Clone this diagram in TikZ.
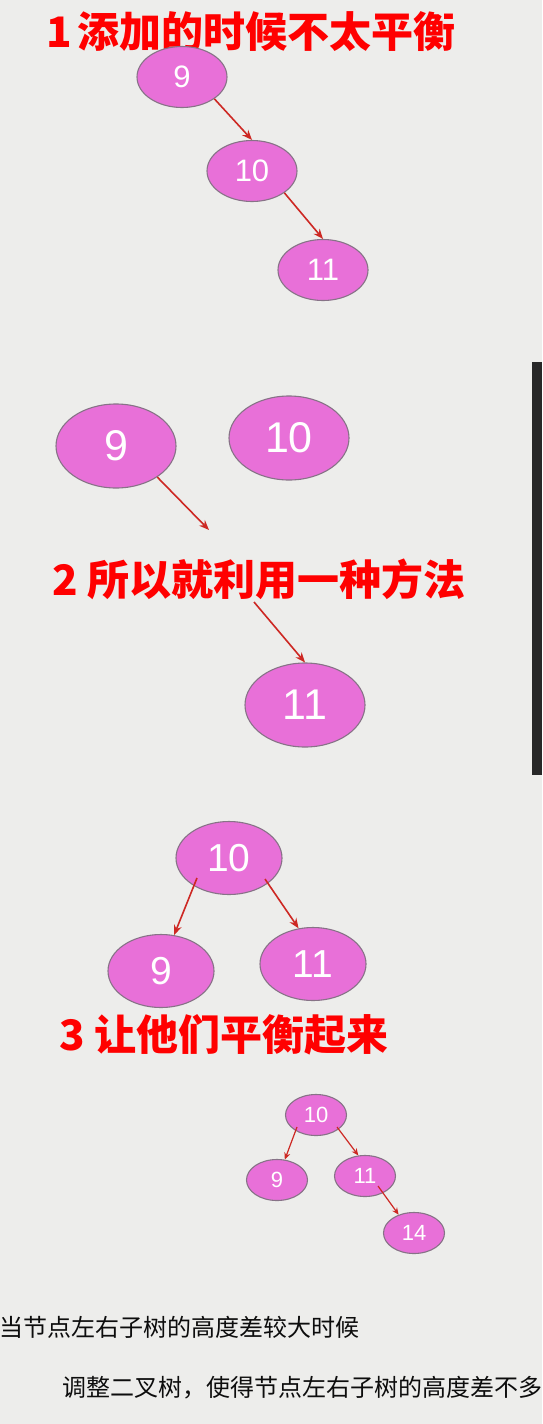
\documentclass[tikz,border=0pt]{standalone}
\usepackage{fontspec}
\setmainfont{Liberation Sans}
\newfontfamily\cjk{Noto Sans CJK SC}
\definecolor{NodePink}{RGB}{232,112,216}
\definecolor{NodeEdge}{RGB}{135,115,135}
\definecolor{ArrowRed}{RGB}{205,40,35}
\definecolor{TitleRed}{RGB}{255,0,0}
\definecolor{PaperGray}{RGB}{237,237,235}
\definecolor{BarDark}{RGB}{40,40,40}
\usetikzlibrary{shapes.geometric,arrows.meta}

\begin{document}
\begin{tikzpicture}[x=1pt, y=-1pt,
  tnode/.style={ellipse, draw=NodeEdge, fill=NodePink, line width=1.1pt,
                inner sep=0pt, text=white},
  onebox/.style={tnode, minimum width=90pt, minimum height=61pt,
                 font=\fontsize{31}{31}\selectfont},
  twobox/.style={tnode, minimum width=120pt, minimum height=84pt,
                 font=\fontsize{43}{43}\selectfont},
  threebox/.style={tnode, minimum width=106pt, minimum height=73pt,
                   font=\fontsize{39}{39}\selectfont},
  fourbox/.style={tnode, minimum width=61pt, minimum height=41pt,
                  font=\fontsize{22}{22}\selectfont},
  arr/.style={-{Stealth[length=10pt, width=8pt]}, line width=1.6pt, draw=ArrowRed},
  smallarr/.style={-{Stealth[length=7pt, width=6pt]}, line width=1.2pt, draw=ArrowRed},
  title/.style={anchor=base west, inner sep=0pt, text=TitleRed,
                font=\cjk\bfseries\fontsize{42}{42}\selectfont},
  note/.style={anchor=base west, inner sep=0pt, text=black!95,
               font=\cjk\fontsize{24}{24}\selectfont}
]
  % paper and frame
  \fill[PaperGray] (0,0) rectangle (542,1424);
  \useasboundingbox (0,0) rectangle (542,1424);
  \clip (0,0) rectangle (542,1424);
  \fill[BarDark] (532,362) rectangle (542,775);

  % 1: unbalanced after adding
  \node[title] (t1) at (46,47) {1\hspace{-4pt} 添加的时候不太平衡};
  \node[onebox] (a9) at (182,77) {9};
  \node[onebox] (a10) at (252,171) {10};
  \node[onebox] (a11) at (323,270) {11};
  \draw[arr] (a9.-34) -- (a10.north);
  \draw[arr] (a10.-34) -- (a11.north);

  % 2: rotate
  \node[twobox] (b9) at (116,446) {9};
  \node[twobox] (b10) at (289,438) {10};
  \node[twobox] (b11) at (305,705) {11};
  \node[title] (t2) at (52,595) {2 所以就利用一种方法};
  \coordinate (bend) at (209,530);
  \coordinate (bstart) at (254,602);
  \draw[arr] (b9.-37) -- (bend);
  \draw[arr] (bstart) -- (b11.north);

  % 3: balanced
  \node[threebox] (c10) at (229,858) {10};
  \node[threebox] (c9) at (161,971) {9};
  \node[threebox] (c11) at (313,964) {11};
  \draw[arr] ([xshift=-32pt, yshift=-20pt]c10.center) -- (c9.70);
  \draw[arr] ([xshift=36pt, yshift=-21pt]c10.center) -- (c11.112);
  \node[title] (t3) at (59,1050) {3 让他们平衡起来};

  % 4: small tree
  \node[fourbox] (d10) at (316,1115) {10};
  \node[fourbox] (d9) at (277,1180) {9};
  \node[fourbox] (d11) at (365,1176) {11};
  \node[fourbox] (d14) at (414,1233) {14};
  \draw[smallarr] ([xshift=-19pt, yshift=-12pt]d10.center) -- (d9.69);
  \draw[smallarr] ([xshift=21pt, yshift=-12pt]d10.center) -- (d11.108);
  \draw[smallarr] ([xshift=13pt, yshift=-10pt]d11.center) -- (d14.130);

  \node[note] (n1) at (-1,1336) {当节点左右子树的高度差较大时候};
  \node[note] (n2) at (62,1396) {调整二叉树，使得节点左右子树的高度差不多};
\end{tikzpicture}
\end{document}
